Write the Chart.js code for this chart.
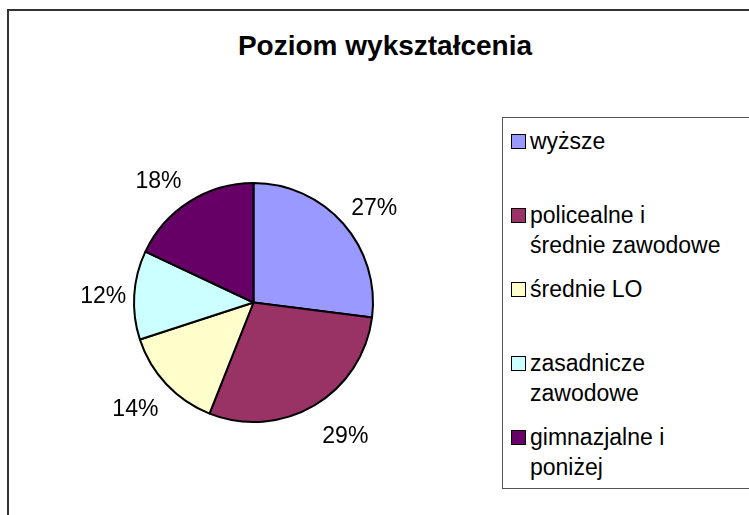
<!DOCTYPE html>
<html lang="pl">
<head>
<meta charset="utf-8">
<script src="https://cdn.jsdelivr.net/npm/chart.js@4/dist/chart.umd.min.js"></script>
<style>
    html, body { margin: 0; padding: 0; background: #fff; }
    body { width: 749px; height: 515px; position: relative; overflow: hidden; font-family: "Liberation Sans", Arial, sans-serif; }
    #frame { position: absolute; left: 7px; top: 9px; width: 780px; height: 560px; border: 2px solid #333; box-sizing: border-box; }
    #title { position: absolute; left: 0; width: 770px; top: 28px; text-align: center; font-weight: bold; font-size: 28px; line-height: 36px; color: #000; }
    #chart { position: absolute; left: 0; top: 0; }
    #legend { position: absolute; left: 502px; top: 117px; width: 280px; height: 372px; border: 1px solid #555; box-sizing: border-box;
        display: grid; grid-template-rows: repeat(5, 1fr); background: #fff; }
    .item { position: relative; padding-top: 8px; padding-left: 27px; font-size: 23px; line-height: 30px; color: #000; }
    .sw { position: absolute; left: 8px; top: 16px; width: 15px; height: 15px; border: 1.5px solid #000; box-sizing: border-box; }
</style>
</head>
<body>
<div id="frame"></div>
<div id="title"></div>
<canvas id="chart" width="749" height="515"></canvas>
<div id="legend"></div>
<script>
const chartTitle = "Poziom wykształcenia";
const categories = [
    ["wyższe"],
    ["policealne i", "średnie zawodowe"],
    ["średnie LO"],
    ["zasadnicze", "zawodowe"],
    ["gimnazjalne i", "poniżej"],
];
const shares = [27, 29, 14, 12, 18];
const colors = ["#9999FF", "#993366", "#FFFFCC", "#CCFFFF", "#660066"];

document.getElementById("title").textContent = chartTitle;

const legend = document.getElementById("legend");
categories.forEach((lines, i) => {
    const item = document.createElement("div");
    item.className = "item";
    const sw = document.createElement("span");
    sw.className = "sw";
    sw.style.background = colors[i];
    item.appendChild(sw);
    lines.forEach((line) => {
        const d = document.createElement("div");
        d.textContent = line;
        item.appendChild(d);
    });
    legend.appendChild(item);
});

// percentage labels placed just outside each slice
const outsideLabels = {
    id: "outsideLabels",
    afterDatasetsDraw(chart) {
        const { ctx } = chart;
        const meta = chart.getDatasetMeta(0);
        const fontSize = 23;
        ctx.save();
        ctx.font = `${fontSize}px "Liberation Sans", Arial, sans-serif`;
        ctx.fillStyle = "#000";
        ctx.textAlign = "center";
        ctx.textBaseline = "middle";
        meta.data.forEach((arc, i) => {
            const { x, y, startAngle, endAngle, outerRadius } = arc.getProps(["x", "y", "startAngle", "endAngle", "outerRadius"], true);
            const mid = (startAngle + endAngle) / 2;
            const ux = Math.cos(mid);
            const uy = Math.sin(mid);
            const text = shares[i] + "%";
            const w = ctx.measureText(text).width;
            const cx = x + ux * outerRadius + Math.sign(ux) * (w / 2 + 8);
            const cy = y + uy * outerRadius + uy * (fontSize / 2 + 16) + 3 + Math.max(uy, 0) * 5;
            ctx.fillText(text, cx, cy);
        });
        ctx.restore();
    },
};

new Chart(document.getElementById("chart"), {
    type: "pie",
    data: {
        labels: categories.map((l) => l.join(" ")),
        datasets: [{
            data: shares,
            backgroundColor: colors,
            borderColor: "#000",
            borderWidth: 2,
        }],
    },
    options: {
        responsive: false,
        animation: false,
        layout: { padding: { left: 133, right: 375, top: 182, bottom: 92 } },
        plugins: {
            legend: { display: false },
            tooltip: { enabled: false },
        },
    },
    plugins: [outsideLabels],
});
</script>
</body>
</html>
